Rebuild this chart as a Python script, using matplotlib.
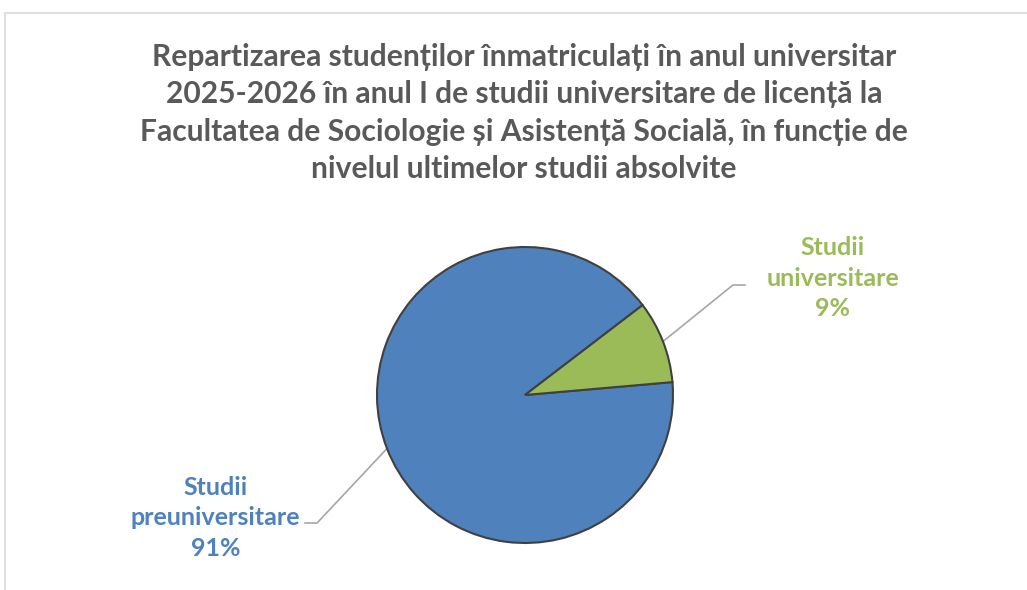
import numpy as np
import matplotlib
matplotlib.use("Agg")
from matplotlib import pyplot as plt
from matplotlib.patches import Rectangle

plt.rcParams['font.family'] = ['Lato', 'DejaVu Sans']

# date
categorii = ["Studii\npreuniversitare", "Studii\nuniversitare"]
procente = [91, 9]
culori = ["#4F81BD", "#9BBB59"]
titlu = ("Repartizarea studenților înmatriculați în anul universitar\n"
         "2025-2026 în anul I de studii universitare de licență la\n"
         "Facultatea de Sociologie și Asistență Socială, în funcție de\n"
         "nivelul ultimelor studii absolvite")

W, H = 1027, 590
fig = plt.figure(figsize=(W / 100, H / 100), dpi=100)

# chenarul zonei graficului (iese din imagine in dreapta si jos)
fig.patches.append(Rectangle((5 / W, -0.1), 1.2, 1 - 13 / H + 0.1,
                             transform=fig.transFigure, fill=False,
                             edgecolor="#D9D9D9", linewidth=1.2))

fig.text(524 / W, 1 - 113 / H, titlu, ha="center", va="center",
         fontsize=21.6, fontweight="bold", color="#595959", linespacing=1.4)

# axa pentru pie: centru (525,395), raza 148 px
cx, cy, r = 525, 395, 148
ax = fig.add_axes([(cx - r) / W, 1 - (cy + r) / H, 2 * r / W, 2 * r / H])
wedges, _ = ax.pie(procente, colors=culori, startangle=5, counterclock=False,
                   wedgeprops=dict(edgecolor="#404040", linewidth=1.5))
ax.set_xlim(-1, 1)
ax.set_ylim(-1, 1)
ax.set_aspect("equal")
ax.axis("off")

# etichete cu linii de legatura
cotituri = [(-1.405, -0.865, -1.486), (1.405, 0.743, 1.486)]
pozitii = [(-2.09, -0.83), (2.08, 0.79)]
for w, cat, p, col, (ex, ey, hx), (tx, ty) in zip(wedges, categorii, procente,
                                                   culori, cotituri, pozitii):
    ang = np.deg2rad((w.theta1 + w.theta2) / 2)
    x0, y0 = np.cos(ang), np.sin(ang)
    ax.plot([x0, ex, hx], [y0, ey, ey], color="#A6A6A6", linewidth=1.2,
            clip_on=False, zorder=0)
    ax.text(tx, ty, f"{cat}\n{p}%", ha="center", va="center", fontsize=18,
            fontweight="bold", color=col, linespacing=1.38, clip_on=False)

fig.savefig("out.png", dpi=100)
